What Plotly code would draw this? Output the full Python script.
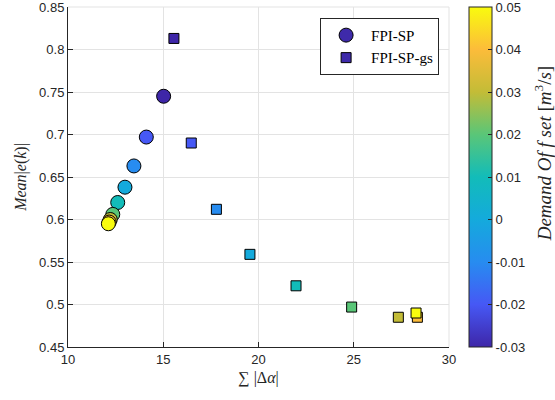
import plotly.graph_objects as go

# Demand offset values (colour)
offsets = [-0.03, -0.02, -0.01, 0.0, 0.01, 0.02, 0.03, 0.04, 0.05]

# FPI-SP (circles)
sp_x = [15.02, 14.11, 13.46, 12.99, 12.61, 12.35, 12.22, 12.16, 12.12]
sp_y = [0.745, 0.697, 0.663, 0.638, 0.620, 0.606, 0.600, 0.597, 0.595]

# FPI-SP-gs (squares)
gs_x = [15.56, 16.47, 17.79, 19.55, 21.97, 24.89, 27.34, 28.34, 28.27]
gs_y = [0.813, 0.690, 0.612, 0.559, 0.522, 0.497, 0.485, 0.485, 0.490]

x_ticks = [10, 15, 20, 25, 30]
y_ticks = [0.45, 0.5, 0.55, 0.6, 0.65, 0.7, 0.75, 0.8, 0.8499999]
y_tick_text = ["0.45", "0.5", "0.55", "0.6", "0.65", "0.7", "0.75", "0.8", "0.85"]
cb_ticks = [-0.03, -0.02, -0.01, 0, 0.01, 0.02, 0.03, 0.04, 0.05]
cb_tick_text = ["-0.03", "-0.02", "-0.01", "0", "0.01", "0.02", "0.03", "0.04", "0.05"]

parula = [
    [0.0, "rgb(62,38,168)"],
    [0.125, "rgb(70,88,245)"],
    [0.25, "rgb(39,140,240)"],
    [0.375, "rgb(20,170,220)"],
    [0.5, "rgb(18,188,185)"],
    [0.625, "rgb(90,198,120)"],
    [0.75, "rgb(195,188,55)"],
    [0.875, "rgb(252,188,58)"],
    [1.0, "rgb(249,251,14)"],
]
legend_color = "rgb(62,42,170)"

fig = go.Figure()
fig.add_trace(go.Scatter(
    x=sp_x, y=sp_y, mode="markers", name="FPI-SP", showlegend=False,
    marker=dict(symbol="circle", size=14, color=offsets, coloraxis="coloraxis",
                line=dict(color="black", width=1)),
))
fig.add_trace(go.Scatter(
    x=gs_x, y=gs_y, mode="markers", name="FPI-SP-gs", showlegend=False,
    marker=dict(symbol="square", size=10, color=offsets, coloraxis="coloraxis",
                line=dict(color="black", width=1)),
))
# legend entries (MATLAB shows the first colour)
fig.add_trace(go.Scatter(
    x=[None], y=[None], mode="markers", name="FPI-SP",
    marker=dict(symbol="circle", size=14, color=legend_color, line=dict(color="black", width=1)),
))
fig.add_trace(go.Scatter(
    x=[None], y=[None], mode="markers", name="FPI-SP-gs",
    marker=dict(symbol="square", size=10, color=legend_color, line=dict(color="black", width=1)),
))

axis_font = dict(family="Liberation Sans, Arial", size=13, color="#262626")
serif = "Liberation Serif, Times New Roman"
fig.update_layout(
    width=555, height=400,
    margin=dict(l=68, r=106, t=7, b=53, autoexpand=False),
    paper_bgcolor="white", plot_bgcolor="white",
    showlegend=True,
    legend=dict(x=0.974, y=0.968, xanchor="right", yanchor="top",
                bgcolor="white", bordercolor="#262626", borderwidth=1,
                font=dict(family=serif, size=15, color="black"),
                itemwidth=40, tracegroupgap=0),
    coloraxis=dict(
        cmin=-0.03, cmax=0.05, colorscale=parula,
        colorbar=dict(x=1.0525, xanchor="left", xref="paper", y=0, yanchor="bottom",
                      len=1, lenmode="fraction", thickness=23, thicknessmode="pixels",
                      outlinecolor="#262626", outlinewidth=1,
                      tickvals=cb_ticks, ticktext=cb_tick_text, ticks="inside",
                      ticklabeloverflow="allow",
                      ticklen=4, tickcolor="#262626", tickfont=axis_font, ypad=0, xpad=0),
    ),
    xaxis=dict(range=[10, 30], tickvals=x_ticks, showgrid=True, gridcolor="#e3e3e3",
               zeroline=False, showline=True, linecolor="#262626", linewidth=1,
               ticks="inside", ticklen=5, tickcolor="#262626", tickfont=axis_font,
               mirror=False, ticklabeloverflow="allow", automargin=False,
               title=dict(text="∑ |Δ<i>α</i>|", standoff=6,
                          font=dict(family=serif, size=16, color="#262626"))),
    yaxis=dict(range=[0.45, 0.85], tickvals=y_ticks, ticktext=y_tick_text, showgrid=True,
               gridcolor="#e3e3e3", zeroline=False, showline=True, linecolor="#262626",
               linewidth=1, ticks="inside", ticklen=5, tickcolor="#262626", tickfont=axis_font,
               ticklabeloverflow="allow", automargin=False,
               title=dict(text="<i>Mean</i>|<i>e</i>(<i>k</i>)|", standoff=8,
                          font=dict(family=serif, size=16, color="#262626"))),
    shapes=[
        dict(type="line", xref="paper", yref="paper", x0=0, x1=1, y0=1, y1=1,
             line=dict(color="#e3e3e3", width=1)),
        dict(type="line", xref="paper", yref="paper", x0=1, x1=1, y0=0, y1=1,
             line=dict(color="#e3e3e3", width=1)),
    ],
    annotations=[
        dict(text="<i>Demand Of f set</i> [<i>m</i><sup>3</sup>/<i>s</i>]", xref="paper", yref="paper",
             x=1.247, y=0.57, xanchor="center", yanchor="middle", textangle=-90, showarrow=False,
             font=dict(family=serif, size=19, color="#262626")),
    ],
)

fig.write_html("out.html")
